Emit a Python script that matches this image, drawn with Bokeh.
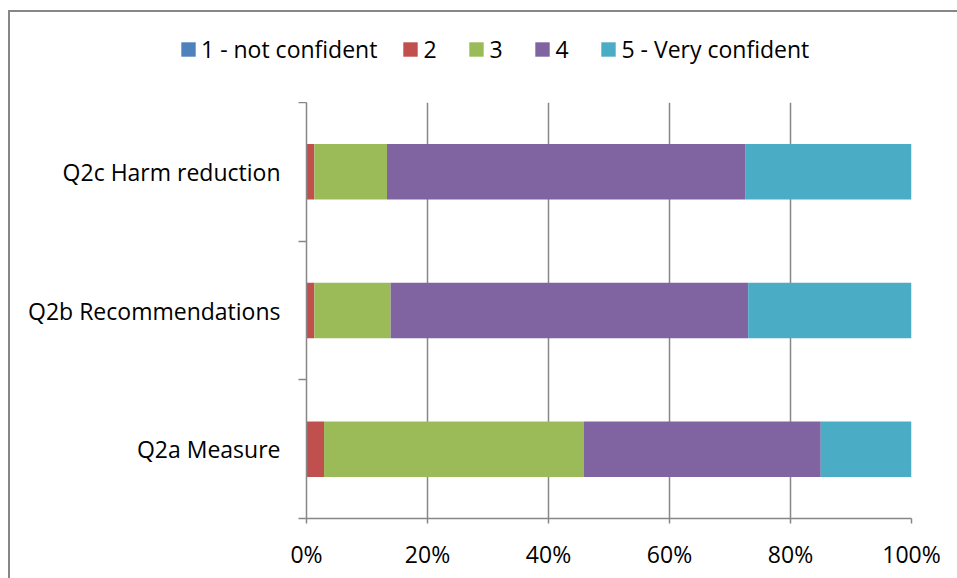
from bokeh.plotting import figure
from bokeh.layouts import column
from bokeh.models import (Range1d, FixedTicker, PrintfTickFormatter, Legend,
                          LegendItem, ColumnDataSource)
from bokeh.embed import file_html
from bokeh.resources import INLINE

# Survey: confidence ratings per question, share of respondents (%)
categories = ["Q2a Measure", "Q2b Recommendations", "Q2c Harm reduction"]
levels = ["1 - not confident", "2", "3", "4", "5 - Very confident"]
not_confident = [0.0, 0.0, 0.0]
level2 = [2.9, 1.3, 1.3]
level3 = [42.9, 12.6, 12.0]
level4 = [39.2, 59.1, 59.2]
very_confident = [15.0, 27.0, 27.5]
x_ticks = [0, 20, 40, 60, 80, 100]

colors = ["#4F81BD", "#C0504D", "#9BBB59", "#8064A2", "#4BACC6"]
FONT = "Open Sans"
FONT_SIZE = "23px"
GREY = "#878787"

positions = [i + 0.5 for i in range(len(categories))]
source = ColumnDataSource(dict(
    pos=positions,
    s1=not_confident, s2=level2, s3=level3, s4=level4, s5=very_confident,
))
keys = ["s1", "s2", "s3", "s4", "s5"]

# ---- main chart -------------------------------------------------------
p = figure(width=947, height=476, output_backend="svg", toolbar_location=None,
           x_range=Range1d(0, 100), y_range=Range1d(0, len(categories)),
           min_border_left=296, min_border_right=46, min_border_top=0,
           min_border_bottom=60)
p.outline_line_color = None

p.hbar_stack(keys, y="pos", height=0.4, color=colors, line_color=None,
             source=source)

# x axis: percentage scale with vertical gridlines
p.xaxis.ticker = FixedTicker(ticks=x_ticks)
p.xaxis.formatter = PrintfTickFormatter(format="%d%%")
p.xaxis.axis_line_color = GREY
p.xaxis.axis_line_width = 1.5
p.xaxis.major_tick_line_color = GREY
p.xaxis.major_tick_line_width = 1.5
p.xaxis.major_tick_in = 0
p.xaxis.major_tick_out = 5
p.xaxis.minor_tick_line_color = None
p.xaxis.major_label_standoff = 14
p.xaxis.major_label_text_font = FONT
p.xaxis.major_label_text_font_size = FONT_SIZE
p.xaxis.major_label_text_color = "black"

p.xgrid.ticker = FixedTicker(ticks=x_ticks)
p.xgrid.grid_line_color = GREY
p.xgrid.grid_line_width = 1.5
p.ygrid.grid_line_color = None

# y axis: labels at bar centres, tick marks on category boundaries
p.yaxis.ticker = FixedTicker(ticks=positions,
                             minor_ticks=list(range(len(categories) + 1)))
p.yaxis.major_label_overrides = {pos: cat for pos, cat in zip(positions, categories)}
p.yaxis.axis_line_color = GREY
p.yaxis.axis_line_width = 1.5
p.yaxis.major_tick_line_color = None
p.yaxis.major_tick_in = 0
p.yaxis.major_tick_out = 0
p.yaxis.minor_tick_line_color = GREY
p.yaxis.minor_tick_line_width = 1.5
p.yaxis.minor_tick_in = 0
p.yaxis.minor_tick_out = 8
p.yaxis.major_label_standoff = 18
p.yaxis.major_label_text_font = FONT
p.yaxis.major_label_text_font_size = FONT_SIZE
p.yaxis.major_label_text_color = "black"

# ---- legend strip above the chart ----------------------------------------
lg = figure(width=947, height=90, output_backend="svg", toolbar_location=None,
            x_axis_location=None, y_axis_location=None,
            x_range=Range1d(0, 1), y_range=Range1d(0, 1),
            min_border=0, min_border_left=0, min_border_right=0,
            min_border_top=0, min_border_bottom=0)
lg.frame_align = False
lg.grid.grid_line_color = None
lg.outline_line_color = None
# swatch renderers sit below the visible range; only their legend glyphs show
swatches = [lg.hbar(y=[-5], right=[1], height=1, color=c, line_color=None)
            for c in colors]
legend = Legend(items=[LegendItem(label=lab, renderers=[r])
                       for lab, r in zip(levels, swatches)],
                orientation="horizontal", location=(169, 37),
                glyph_width=18, glyph_height=18, label_standoff=4, spacing=24,
                padding=0, margin=0, border_line_color=None,
                background_fill_alpha=0, label_text_font=FONT,
                label_text_font_size=FONT_SIZE, label_text_color="black")
lg.add_layout(legend, "center")

layout = column(lg, p, spacing=0)
layout.margin = (10, 0, 0, 8)
layout.styles = {"border-left": f"2px solid {GREY}",
                 "border-top": f"2px solid {GREY}"}

open("out.html", "w").write(file_html(layout, INLINE))
